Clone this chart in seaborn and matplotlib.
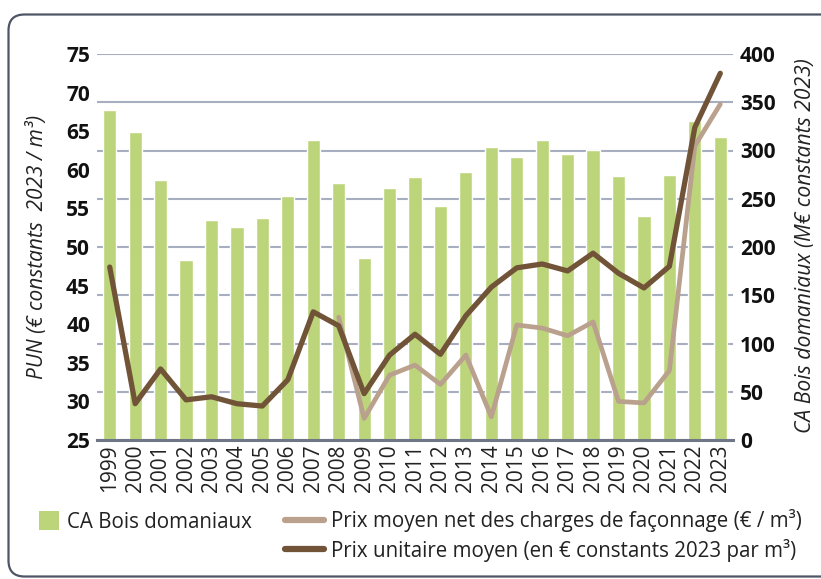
import numpy as np
import pandas as pd
import seaborn as sns
import matplotlib.pyplot as plt
from matplotlib.patches import Patch, FancyBboxPatch
from matplotlib.lines import Line2D
from matplotlib.transforms import IdentityTransform

# values
years = [str(y) for y in range(1999, 2024)]
ca_bois = [342, 319, 269, 187, 228, 221, 230, 253, 311, 266, 189, 261, 273,
           243, 278, 304, 293, 311, 296, 301, 274, 232, 275, 331, 314]
prix_unitaire = [47.4, 29.7, 34.2, 30.2, 30.6, 29.7, 29.4, 32.8, 41.6, 39.8,
                 31.0, 36.0, 38.7, 36.1, 41.1, 44.8, 47.3, 47.8, 46.9, 49.2,
                 46.6, 44.7, 47.5, 65.5, 72.5]
prix_net = [np.nan] * 9 + [40.9, 27.8, 33.4, 34.7, 32.2, 36.0, 28.0, 39.9,
                           39.5, 38.5, 40.3, 30.0, 29.8, 34.0, 63.1, 68.5]

green = '#bdd57a'
dark_brown = '#715438'
light_brown = '#b9a18d'
grid_col = '#a7aebf'

df = pd.DataFrame({'year': years, 'pos': np.arange(len(years)), 'ca': ca_bois,
                   'pu': prix_unitaire, 'pn': prix_net})

sns.set_theme(style="white")
plt.rcParams['font.family'] = ['Open Sans', 'DejaVu Sans']

fig = plt.figure(figsize=(8.21, 5.79), dpi=100)
ax = fig.add_axes([97 / 821, 139 / 579, 636 / 821, 386 / 579])

# bars -> CA (right scale), drawn on the bottom axes so the lines sit above
sns.barplot(data=df, x='year', y='ca', color=green, saturation=1, width=0.52, ax=ax)
ax.set_ylim(0, 400)
ax.set_xlim(-0.5, len(years) - 0.5)
ax.set_yticks(np.arange(0, 401, 50))
ax.set_axisbelow(True)
ax.yaxis.grid(True, color=grid_col, lw=1.5)
ax.set_xlabel('')

ax2 = ax.twinx()
sns.lineplot(data=df, x='pos', y='pn', color=light_brown, lw=3.4, ax=ax2)
sns.lineplot(data=df, x='pos', y='pu', color=dark_brown, lw=3.8, ax=ax2)
ax2.set_ylim(25, 75)
ax2.set_yticks(np.arange(25, 76, 5))
ax2.set_xlabel('')
ax2.set_xlim(-0.5, len(years) - 0.5)

# swap sides: CA on the right, PUN on the left
ax.yaxis.tick_right()
ax.yaxis.set_label_position('right')
ax2.yaxis.tick_left()
ax2.yaxis.set_label_position('left')

ax.set_ylabel('CA Bois domaniaux (M€ constants 2023)', fontsize=15.2, style='italic',
              color='#222222', rotation=90)
ax.yaxis.set_label_coords(1.0975, 0.504)
ax2.set_ylabel('PUN (€ constants  2023 / m³)', fontsize=15, style='italic',
               color='#222222', rotation=90)
ax2.yaxis.set_label_coords(-0.077, 0.501)

for a in (ax, ax2):
    for s in ['top', 'left', 'right', 'bottom']:
        a.spines[s].set_visible(False)
ax.spines['bottom'].set_visible(True)
ax.spines['bottom'].set_color('#6f7787')
ax.spines['bottom'].set_linewidth(2.2)

ax.tick_params(axis='y', length=0, pad=5, labelsize=15, labelcolor='#111111')
ax2.tick_params(axis='y', length=0, pad=5, labelsize=15, labelcolor='#111111')
for lab in ax.get_yticklabels() + ax2.get_yticklabels():
    lab.set_fontweight('bold')
ax.set_xticks(np.arange(len(years)))
ax.set_xticklabels(years, rotation=90, fontsize=15, color='#222222')
ax.tick_params(axis='x', length=0, pad=3)
ax2.tick_params(axis='x', length=0, labelbottom=False)

# legend
h1 = [Patch(facecolor=green, edgecolor='none')]
fig.legend(h1, ['CA Bois domaniaux'], loc='center left',
           bbox_to_anchor=(20 / 821, 1 - 522 / 579), frameon=False,
           fontsize=14.8, handlelength=1.0, handleheight=1.0, handletextpad=0.4,
           labelcolor='#222222')
h2 = [Line2D([], [], color=light_brown, lw=4.5, solid_capstyle='round'),
      Line2D([], [], color=dark_brown, lw=4.5, solid_capstyle='round')]
fig.legend(h2, ['Prix moyen net des charges de façonnage (€ / m³)',
                'Prix unitaire moyen (en € constants 2023 par m³)'],
           loc='upper left', bbox_to_anchor=(266 / 821, 1 - 491 / 579),
           frameon=False, fontsize=14.8, handlelength=1.9, handletextpad=0.35,
           labelspacing=0.3, labelcolor='#222222')

frame = FancyBboxPatch((8.5, 2.5), 835, 562, boxstyle='round,pad=0,rounding_size=16',
                       transform=IdentityTransform(), facecolor='none',
                       edgecolor='#4d5566', lw=1.6)
fig.patches.append(frame)

fig.savefig('out.png', dpi=100)
